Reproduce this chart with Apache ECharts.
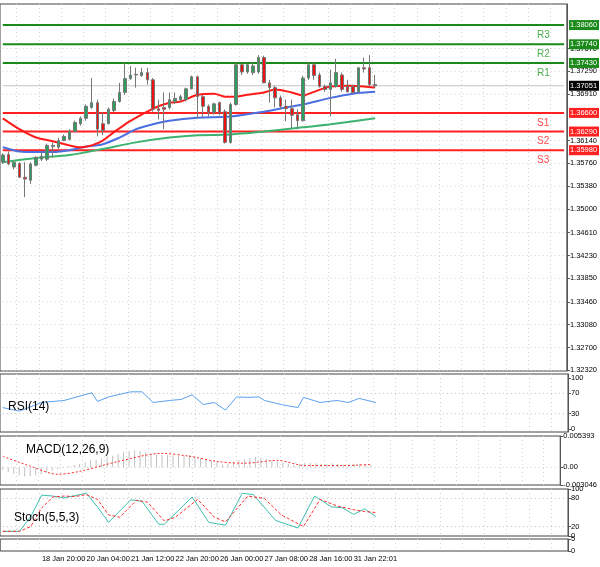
<!DOCTYPE html>
<html>
<head>
<meta charset="utf-8">
<script src="https://cdn.jsdelivr.net/npm/echarts@6/dist/echarts.min.js"></script>
<style>html,body{margin:0;background:#fff}#chart{width:600px;height:567px}</style>
</head>
<body>
<div id="chart"></div>
<script>
// 4H candles, [open, close, low, high]
var candles = [
  [1.3578,1.3590,1.3575,1.3593],[1.3591,1.3575,1.3573,1.3596],[1.3570,1.3578,1.3566,1.3580],[1.3576,1.3553,1.3552,1.3578],
  [1.3553,1.3550,1.3520,1.3578],[1.3548,1.3575,1.3542,1.3578],[1.3573,1.3586,1.3571,1.3588],[1.3583,1.3588,1.3580,1.3595],
  [1.3583,1.3606,1.3580,1.3609],[1.3604,1.3606,1.3586,1.3611],[1.3603,1.3614,1.3600,1.3619],[1.3614,1.3621,1.3613,1.3624],
  [1.3616,1.3629,1.3614,1.3633],[1.3629,1.3644,1.3628,1.3647],[1.3642,1.3651,1.3639,1.3654],[1.3651,1.3671,1.3647,1.3674],
  [1.3669,1.3677,1.3667,1.3718],[1.3677,1.3633,1.3621,1.3682],[1.3642,1.3631,1.3623,1.3661],[1.3642,1.3666,1.3641,1.3669],
  [1.3664,1.3679,1.3661,1.3684],[1.3679,1.3694,1.3677,1.3710],[1.3694,1.3717,1.3690,1.3743],[1.3717,1.3723,1.3715,1.3738],
  [1.3723,1.3724,1.3702,1.3735],[1.3722,1.3727,1.3720,1.3735],[1.3727,1.3715,1.3707,1.3735],[1.3715,1.3666,1.3662,1.3718],
  [1.3667,1.3664,1.3649,1.3682],[1.3669,1.3666,1.3633,1.3694],[1.3669,1.3682,1.3666,1.3694],[1.3679,1.3684,1.3675,1.3694],
  [1.3682,1.3687,1.3679,1.3690],[1.3682,1.3700,1.3679,1.3702],[1.3700,1.3720,1.3699,1.3722],[1.3720,1.3687,1.3652,1.3722],
  [1.3687,1.3671,1.3652,1.3690],[1.3671,1.3661,1.3654,1.3674],[1.3661,1.3675,1.3657,1.3677],[1.3677,1.3661,1.3656,1.3679],
  [1.3662,1.3611,1.3609,1.3666],[1.3611,1.3674,1.3609,1.3677],[1.3674,1.3740,1.3672,1.3743],[1.3740,1.3728,1.3723,1.3742],
  [1.3728,1.3740,1.3725,1.3742],[1.3727,1.3738,1.3723,1.3745],[1.3728,1.3752,1.3725,1.3756],[1.3752,1.3710,1.3709,1.3755],
  [1.3710,1.3702,1.3677,1.3715],[1.3702,1.3685,1.3669,1.3705],[1.3685,1.3671,1.3666,1.3689],[1.3671,1.3667,1.3646,1.3682],
  [1.3667,1.3656,1.3634,1.3682],[1.3657,1.3647,1.3633,1.3666],[1.3647,1.3718,1.3646,1.3722],[1.3718,1.3740,1.3715,1.3743],
  [1.3740,1.3722,1.3715,1.3743],[1.3723,1.3704,1.3702,1.3727],[1.3704,1.3699,1.3695,1.3707],[1.3699,1.3710,1.3654,1.3732],
  [1.3704,1.3727,1.3702,1.3750],[1.3723,1.3699,1.3695,1.3727],[1.3704,1.3695,1.3694,1.3715],[1.3704,1.3694,1.3692,1.3707],
  [1.3695,1.3735,1.3694,1.3735],[1.3735,1.3733,1.3727,1.3752],[1.3735,1.3707,1.3704,1.3756],[1.3707,1.37051,1.3702,1.3723]
];

// moving averages, [index, value]
var maFast = [[0,1.3651],[3,1.3633],[6,1.3619],[9,1.3613],[12,1.3606],[14,1.3603],[16,1.3606],[18,1.3614],[20,1.3628],[22,1.3641],[24,1.3652],[26,1.3662],[28,1.3671],[30,1.3677],[32,1.3679],[35,1.3690],[38,1.3692],[40,1.3687],[42,1.3687],[44,1.3690],[47,1.3694],[49,1.3699],[52,1.3694],[54,1.3689],[56,1.3695],[59,1.3704],[62,1.3705],[65,1.3704],[67,1.3702]];
var maMid = [[0,1.3603],[3,1.3596],[6,1.3595],[9,1.3595],[12,1.3598],[15,1.3604],[18,1.3608],[21,1.3619],[24,1.3633],[27,1.3641],[30,1.3647],[35,1.3652],[41,1.3654],[47,1.3662],[51,1.3669],[54,1.3674],[59,1.3685],[63,1.3692],[67,1.3695]];
var maSlow = [[0,1.3578],[6,1.3585],[12,1.3590],[18,1.3600],[24,1.3611],[30,1.3619],[35,1.3623],[41,1.3624],[47,1.3629],[54,1.3636],[59,1.3641],[67,1.3651]];

var levelNames = ['R3','R2','R1','S1','S2','S3'];
var levelValues = [1.3806, 1.3774, 1.3743, 1.3660, 1.3629, 1.3598];
var lastPrice = 1.37051;
var priceTicks = [1.3232,1.3270,1.3308,1.3346,1.3385,1.3423,1.3461,1.3500,1.3538,1.3576,1.3614,1.3691,1.3729,1.3767];

var rsi = [[0,42],[3,35],[7,52],[11,56],[16,71],[17,54],[19,63],[23,73],[25,73],[27,52],[30,56],[32,58],[34,67],[36,48],[38,52],[40,37],[42,63],[44,62],[46,63],[47,56],[50,48],[53,42],[54,62],[57,52],[60,56],[62,52],[64,60],[67,52]];

var macdHist = [-0.0004,-0.0008,-0.0011,-0.0014,-0.0016,-0.0015,-0.0014,-0.0012,-0.0009,-0.0006,-0.0003,-0.0001,0.0002,0.0004,0.0006,0.0009,
  0.0012,0.0013,0.0015,0.0018,0.0020,0.0023,0.0026,0.0028,0.0029,0.0028,0.0026,0.0024,0.0022,0.0021,0.0021,0.0021,
  0.0020,0.0020,0.0021,0.0019,0.0016,0.0013,0.0011,0.0009,0.0005,0.0006,0.0010,0.0012,0.0014,0.0016,0.0018,0.0016,
  0.0014,0.0012,0.0010,0.0008,0.0006,0.0004,0.0006,0.0008,0.0008,0.0007,0.0006,0.0006,0.0007,0.0006,0.0005,0.0005,
  0.0006,0.0006,0.0005,0.0004];
var macdSignal = [[0,0.0019],[5,0.0002],[10,-0.0012],[14,-0.0007],[21,0.0010],[29,0.0024],[34,0.0019],[39,0.0010],[44,0.0007],[50,0.0012],[55,0.0003],[62,0.0003],[67,0.0005]];

var stochK = [[0,10],[3,10],[5,41],[7,87],[9,85],[11,81],[15,91],[17,62],[19,29],[23,77],[25,74],[28,25],[29,25],[34,83],[37,29],[40,23],[43,91],[45,88],[49,33],[53,17],[56,85],[59,62],[61,60],[63,46],[65,58],[67,41]];
var stochD = [[0,10],[3,10],[5,20],[7,60],[9,83],[11,85],[13,84],[15,88],[17,78],[19,45],[21,40],[24,76],[26,72],[29,32],[31,40],[35,78],[38,40],[40,30],[44,85],[47,80],[50,45],[54,20],[57,78],[60,64],[63,56],[65,52],[67,50]];

var timeLabels = {7:'18 Jan 20:00',15:'20 Jan 04:00',23:'21 Jan 12:00',31:'22 Jan 20:00',39:'26 Jan 00:00',47:'27 Jan 08:00',55:'28 Jan 16:00',63:'31 Jan 22:01'};
var slots = 102;

var cats = [];
for (var i = 0; i < slots; i++) cats.push(i);
var last = slots - 1;

var chart = echarts.init(document.getElementById('chart'));

var grids = [
  {left:-4, right:32, top:4, height:367},
  {left:-4, right:32, top:374, height:58},
  {left:-4, right:32, top:436, height:49},
  {left:-4, right:32, top:489, height:47},
  {left:-4, right:32, top:539, height:12}
];

var xAxes = grids.map(function(g, k) {
  return {
    type:'category', gridIndex:k, data:cats, boundaryGap:true,
    axisLine:{show:false}, axisTick:{show:false},
    splitLine:{show:true, interval:function(i){return i % 4 === 3;}, lineStyle:{color:'#d4d4d4', type:[1,3]}},
    axisLabel:{show:k === 4, interval:0, fontSize:7.5, color:'#000', align:'left', margin:4,
      formatter:function(v){return timeLabels[v] || '';}}
  };
});

function yax(k, min, max, ticks, fmt) {
  return {
    type:'value', gridIndex:k, position:'right', min:min, max:max, scale:true,
    axisLine:{show:true, lineStyle:{color:'#555'}},
    axisTick:{show:true, customValues:ticks, length:3, lineStyle:{color:'#555'}},
    axisLabel:{customValues:ticks, fontSize:7.5, color:'#000', margin:3, formatter:fmt},
    splitLine:{show:false}
  };
}
var yAxes = [
  yax(0, 1.3231, 1.3841, priceTicks, function(v){return v.toFixed(5);}),
  yax(1, -6, 108, [0,30,70,100], function(v){return String(v);}),
  yax(2, -0.003046, 0.005393, [-0.003046,0,0.005393], function(v){return v === 0 ? '0.00' : v.toFixed(6);}),
  yax(3, 0, 100, [0,20,80,100], function(v){return String(v);}),
  yax(4, 0, 5, [0,5], function(v){return String(v);})
];

function line(data, color, xi, extra) {
  return Object.assign({type:'line', data:data, xAxisIndex:xi, yAxisIndex:xi, showSymbol:false, smooth:0.3,
    lineStyle:{color:color, width:1}, itemStyle:{color:color}, silent:true, z:3}, extra || {});
}
function hline(v, xi, style, z) {
  return {type:'line', data:[[0, v], [last, v]], xAxisIndex:xi, yAxisIndex:xi, showSymbol:false,
    silent:true, lineStyle:style, z:z || 1};
}

var series = [];
priceTicks.forEach(function(v){ series.push(hline(v, 0, {color:'#d4d4d4', width:1, type:[1,3]})); });
series.push(hline(lastPrice, 0, {color:'#c4c4c4', width:1}));
levelValues.forEach(function(v, k){
  series.push(hline(v, 0, {color:k < 3 ? '#1a8a1a' : '#ff2020', width:2}, 2));
});
series.push(
  {type:'candlestick', data:candles, xAxisIndex:0, yAxisIndex:0, barWidth:3, z:4, silent:true,
    itemStyle:{color:'#2e9e5e', color0:'#f01010', borderColor:'#777', borderColor0:'#777', borderWidth:1}},
  line(maSlow, '#3cb371', 0, {lineStyle:{color:'#3cb371', width:2}}),
  line(maMid, '#4a6fe0', 0, {lineStyle:{color:'#4a6fe0', width:2}}),
  line(maFast, '#ff1a1a', 0, {lineStyle:{color:'#ff1a1a', width:2}}),
  hline(70, 1, {color:'#bbb', width:1, type:[1,3]}),
  hline(30, 1, {color:'#bbb', width:1, type:[1,3]}),
  line(rsi, '#5aa0ee', 1, {smooth:0}),
  hline(0, 2, {color:'#ccc', width:1, type:[1,3]}),
  {type:'bar', data:macdHist, xAxisIndex:2, yAxisIndex:2, barWidth:1, itemStyle:{color:'#c0c0c0'}, silent:true},
  line(macdSignal, '#ff2a2a', 2, {lineStyle:{color:'#ff2a2a', width:1, type:[2,2]}}),
  hline(80, 3, {color:'#bbb', width:1, type:[1,3]}),
  hline(20, 3, {color:'#bbb', width:1, type:[1,3]}),
  line(stochK, '#3fbfb0', 3, {smooth:0}),
  line(stochD, '#ff2a2a', 3, {smooth:0, lineStyle:{color:'#ff2a2a', width:1, type:[3,2]}})
);

chart.setOption({
  animation:false,
  textStyle:{fontFamily:'Liberation Sans, Arial, sans-serif'},
  grid:grids.map(function(g){ return Object.assign({show:true, borderColor:'#444', borderWidth:1}, g); }),
  xAxis:xAxes,
  yAxis:yAxes,
  title:[
    {text:'RSI(14)', left:3, top:396, textStyle:{fontSize:12, fontWeight:'normal', color:'#000'}},
    {text:'MACD(12,26,9)', left:21, top:439, textStyle:{fontSize:12, fontWeight:'normal', color:'#000'}},
    {text:'Stoch(5,5,3)', left:9, top:507, textStyle:{fontSize:12, fontWeight:'normal', color:'#000'}}
  ],
  series:series
});

// level names and price tags placed through the price axis
var gfx = [];
levelValues.forEach(function(v, k){
  var y = chart.convertToPixel({yAxisIndex:0}, v);
  var col = k < 3 ? '#1a8a1a' : '#ff2020';
  gfx.push({type:'text', x:537, y:y + 5, style:{text:levelNames[k], fill:k < 3 ? '#4caf50' : '#ff4a4a', fontSize:10, fontFamily:'Liberation Sans'}});
  gfx.push({type:'rect', x:569, y:y - 5, shape:{width:30, height:10}, style:{fill:col}, z:10});
  gfx.push({type:'text', x:570, y:y - 4, style:{text:v.toFixed(5), fill:'#fff', fontSize:7.5, fontFamily:'Liberation Sans'}, z:11});
});
var ly = chart.convertToPixel({yAxisIndex:0}, lastPrice);
gfx.push({type:'rect', x:569, y:ly - 5, shape:{width:30, height:10}, style:{fill:'#000'}, z:10});
gfx.push({type:'text', x:570, y:ly - 4, style:{text:lastPrice.toFixed(5), fill:'#fff', fontSize:7.5, fontFamily:'Liberation Sans'}, z:11});
chart.setOption({graphic:gfx});

window.addEventListener('resize', function(){ chart.resize(); });
</script>
</body>
</html>
